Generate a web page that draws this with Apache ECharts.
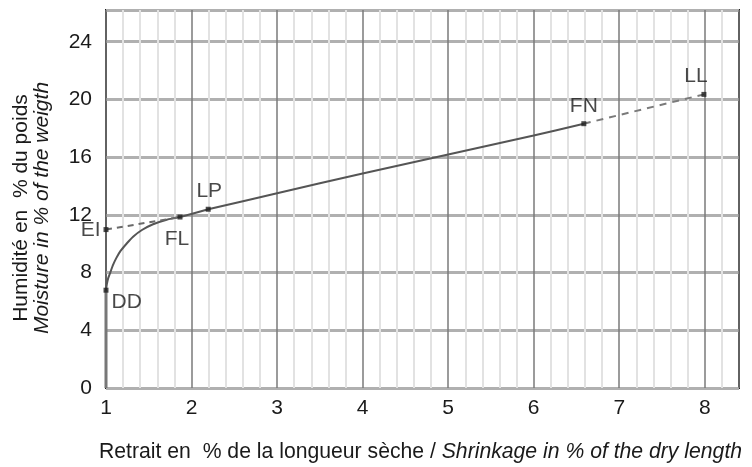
<!DOCTYPE html>
<html>
<head>
<meta charset="utf-8">
<script src="https://cdn.jsdelivr.net/npm/echarts@6/dist/echarts.min.js"></script>
<style>
html,body{margin:0;padding:0;background:#fff;}
#chart{width:752px;height:467px;}
</style>
</head>
<body>
<div id="chart"></div>
<script>
// Vertical part along the axis (shrinkage %, moisture %)
var baseX = [1, 1];
var baseY = [0, 6.78];
// Curved part DD -> LP
var bendX = [1, 1.01, 1.025, 1.05, 1.08, 1.12, 1.17, 1.24, 1.32, 1.42, 1.55, 1.7, 1.865, 2.195];
var bendY = [6.78, 7.2, 7.6, 8.0, 8.5, 9.0, 9.5, 10.0, 10.5, 10.95, 11.35, 11.65, 11.85, 12.39];
// Straight part LP -> FN
var lineX = [2.195, 3, 4, 5, 6, 6.586];
var lineY = [12.39, 13.5, 14.87, 16.18, 17.5, 18.32];
// Dashed extrapolations
var dashEIX = [1, 1.865];
var dashEIY = [10.98, 11.85];
var dashLLX = [6.586, 7.99];
var dashLLY = [18.32, 20.35];
// Marked points
var pointNames = ['EI', 'DD', 'FL', 'LP', 'FN', 'LL'];
var pointX = [1, 1, 1.865, 2.195, 6.586, 7.99];
var pointY = [10.98, 6.78, 11.85, 12.39, 18.32, 20.35];
// Axis ticks
var xTicks = [1, 2, 3, 4, 5, 6, 7, 8];
var yTicks = [0, 4, 8, 12, 16, 20, 24];

function zip(a, b) { return a.map(function (v, i) { return [v, b[i]]; }); }

var labelPlacement = {
  EI: { position: 'left', offset: [1, 1] },
  DD: { position: 'right', offset: [-1, 12] },
  FL: { position: 'bottom', offset: [-3, 5] },
  LP: { position: 'top', offset: [1, -1] },
  FN: { position: 'top', offset: [0, 0] },
  LL: { position: 'top', offset: [-8, -1] }
};

var points = pointNames.map(function (n, i) {
  return { name: n, value: [pointX[i], pointY[i]], label: labelPlacement[n] };
});

var chart = echarts.init(document.getElementById('chart'));
var FONT = '"Liberation Sans", Arial, sans-serif';
var TXT = '#1a1a1a';
var curveStyle = { color: '#555', width: 2 };
chart.setOption({
  animation: false,
  backgroundColor: '#fff',
  grid: { left: 106, top: 10, right: 13, bottom: 79, show: true, borderColor: '#1e1e1e', borderWidth: 2, backgroundColor: 'transparent' },
  xAxis: {
    type: 'value', min: 1, max: 8.4, interval: 1,
    axisLine: { show: false },
    axisTick: { show: false },
    axisLabel: {
      margin: 10, fontSize: 21, color: TXT, fontFamily: FONT,
      formatter: function (v) { return xTicks.indexOf(v) >= 0 ? String(v) : ''; }
    },
    splitLine: { show: true, lineStyle: { color: '#7a7a7a', width: 1.5 } },
    minorTick: { show: false, splitNumber: 5 },
    minorSplitLine: { show: true, lineStyle: { color: '#e2e2e2', width: 2 } }
  },
  yAxis: {
    type: 'value', min: 0, max: 26.2, interval: 4,
    axisLine: { show: false },
    axisTick: { show: false },
    axisLabel: {
      margin: 14, fontSize: 21, color: TXT, fontFamily: FONT,
      formatter: function (v) { return yTicks.indexOf(v) >= 0 ? String(v) : ''; }
    },
    splitLine: { show: true, lineStyle: { color: '#b0b0b0', width: 3 } }
  },
  series: [
    { type: 'line', data: zip(baseX, baseY), symbol: 'none', lineStyle: { color: '#777', width: 3 }, z: 3 },
    { type: 'line', data: zip(bendX, bendY), symbol: 'none', smooth: 0.3, lineStyle: curveStyle, z: 3 },
    { type: 'line', data: zip(lineX, lineY), symbol: 'none', smooth: 0.3, lineStyle: curveStyle, z: 3 },
    { type: 'line', data: zip(dashEIX, dashEIY), symbol: 'none', lineStyle: { color: '#6a6a6a', width: 2, type: [6, 5] }, z: 3 },
    { type: 'line', data: zip(dashLLX, dashLLY), symbol: 'none', lineStyle: { color: '#7a7a7a', width: 2, type: [7, 6] }, z: 3 },
    {
      type: 'scatter', data: points, symbol: 'rect', symbolSize: 5,
      itemStyle: { color: '#1e1e1e' }, z: 4,
      label: { show: true, formatter: '{b}', fontSize: 21, color: TXT, fontFamily: FONT, distance: 4 }
    }
  ],
  graphic: [
    {
      type: 'text', x: 21, y: 208, rotation: Math.PI / 2,
      style: { text: 'Humidité en  % du poids', font: '21px ' + FONT, fill: TXT, align: 'center', verticalAlign: 'middle' }
    },
    {
      type: 'text', x: 42, y: 208, rotation: Math.PI / 2,
      style: { text: 'Moisture in % of the weigth', font: 'italic 21px ' + FONT, fill: TXT, align: 'center', verticalAlign: 'middle' }
    },
    {
      type: 'text', x: 99, y: 452,
      style: {
        text: '{n|Retrait en  % de la longueur sèche / }{i|Shrinkage in % of the dry length}',
        rich: {
          n: { font: '21.2px ' + FONT, fill: TXT },
          i: { font: 'italic 21.2px ' + FONT, fill: TXT }
        },
        verticalAlign: 'middle'
      }
    }
  ]
});
</script>
</body>
</html>
